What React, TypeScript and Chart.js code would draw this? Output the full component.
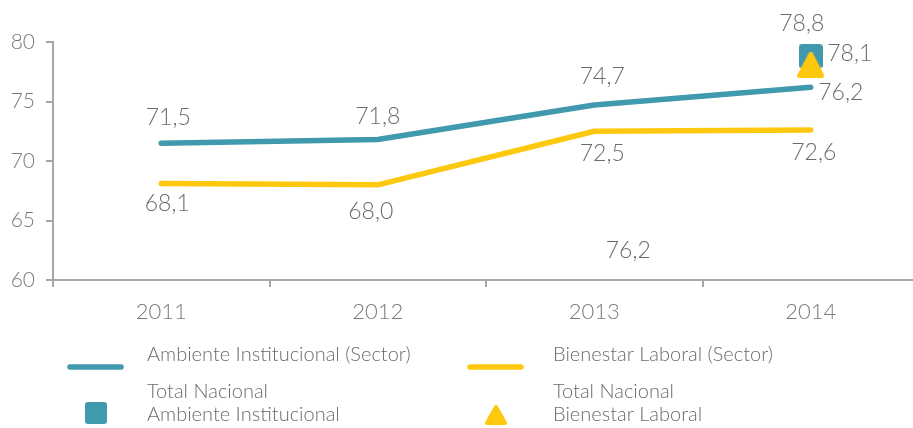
import React, { useEffect, useRef } from 'react';
import { Chart, registerables } from 'chart.js';

Chart.register(...registerables);

// ---------- data ----------
const years: string[] = ['2011', '2012', '2013', '2014'];
const ambienteSector: number[] = [71.5, 71.8, 74.7, 76.2];
const bienestarSector: number[] = [68.1, 68.0, 72.5, 72.6];
const totalAmbiente: (number | null)[] = [null, null, null, 78.8];
const totalBienestar: (number | null)[] = [null, null, null, 78.1];
const yTickValues: number[] = [60, 65, 70, 75, 80];
const strayLabelText = '76,2';
const legendAmbienteSector: string[] = ['Ambiente Institucional (Sector)'];
const legendBienestarSector: string[] = ['Bienestar Laboral (Sector)'];
const legendTotalAmbiente: string[] = ['Total Nacional', 'Ambiente Institucional'];
const legendTotalBienestar: string[] = ['Total Nacional', 'Bienestar Laboral'];

// ---------- styles ----------
const TEAL = '#4199ae';
const YELLOW = '#fec80f';
const AXIS = '#a6a6a6';
const TICK_TEXT = '#7a7a7a';
const LABEL_TEXT = '#6b6b6b';
const FONT = 'Lato, "Open Sans", sans-serif';

const fmt = (v: number) => v.toFixed(1).replace('.', ',');

function makeSquare(size: number, color: string): HTMLCanvasElement {
  const c = document.createElement('canvas');
  c.width = size;
  c.height = size;
  const ctx = c.getContext('2d')!;
  const r = 3;
  ctx.fillStyle = color;
  ctx.beginPath();
  ctx.moveTo(r, 0);
  ctx.arcTo(size, 0, size, size, r);
  ctx.arcTo(size, size, 0, size, r);
  ctx.arcTo(0, size, 0, 0, r);
  ctx.arcTo(0, 0, size, 0, r);
  ctx.closePath();
  ctx.fill();
  return c;
}

function makeTriangle(w: number, h: number, color: string): HTMLCanvasElement {
  const c = document.createElement('canvas');
  c.width = w;
  c.height = h;
  const ctx = c.getContext('2d')!;
  const lw = 4;
  ctx.fillStyle = color;
  ctx.strokeStyle = color;
  ctx.lineWidth = lw;
  ctx.lineJoin = 'round';
  ctx.beginPath();
  ctx.moveTo(w / 2, lw / 2);
  ctx.lineTo(w - lw / 2, h - lw / 2);
  ctx.lineTo(lw / 2, h - lw / 2);
  ctx.closePath();
  ctx.fill();
  ctx.stroke();
  return c;
}

// label offsets (pixels from each point), kept apart from the data
const labelOffsets: Record<number, [number, number][]> = {
  0: [[7, -26], [0, -23], [8, -28], [30, 5]],
  1: [[6, 20], [-7, 27], [8, 22], [3, 23]],
  2: [[0, 0], [0, 0], [0, 0], [-9, -33]],
  3: [[0, 0], [0, 0], [0, 0], [39, -11]],
};

export default function App() {
  const ref = useRef<HTMLCanvasElement | null>(null);

  useEffect(() => {
    if (!ref.current) return;
    const square = makeSquare(24, TEAL);
    const triangle = makeTriangle(27, 26, YELLOW);
    const legendSquare = makeSquare(22, TEAL);
    const legendTriangle = makeTriangle(22, 20, YELLOW);

    const labelsPlugin = {
      id: 'valueLabels',
      afterDatasetsDraw(chart: any) {
        const ctx = chart.ctx;
        ctx.save();
        ctx.font = `300 23px ${FONT}`;
        ctx.fillStyle = LABEL_TEXT;
        ctx.textAlign = 'center';
        ctx.textBaseline = 'middle';
        chart.data.datasets.forEach((ds: any, di: number) => {
          const meta = chart.getDatasetMeta(di);
          meta.data.forEach((pt: any, i: number) => {
            const v = ds.data[i];
            if (v === null || v === undefined) return;
            const off = labelOffsets[di][i];
            ctx.fillText(fmt(v), pt.x + off[0], pt.y + off[1]);
          });
        });
        // stray label found in the original
        const xs = chart.scales.x;
        const ys = chart.scales.y;
        ctx.fillText(strayLabelText, xs.getPixelForValue(2) + 34, ys.getPixelForValue(62.5));
        ctx.restore();
      },
    };

    const legendPlugin = {
      id: 'customLegend',
      afterDraw(chart: any) {
        const ctx = chart.ctx;
        ctx.save();
        ctx.font = `300 20px ${FONT}`;
        ctx.fillStyle = LABEL_TEXT;
        ctx.textAlign = 'left';
        ctx.textBaseline = 'middle';
        ctx.lineCap = 'round';
        ctx.lineWidth = 5.5;
        // column 1
        ctx.strokeStyle = TEAL;
        ctx.beginPath();
        ctx.moveTo(70, 367);
        ctx.lineTo(121, 367);
        ctx.stroke();
        ctx.fillText(legendAmbienteSector[0], 147, 355);
        ctx.drawImage(legendSquare, 85, 402);
        legendTotalAmbiente.forEach((t, i) => ctx.fillText(t, 147, 392 + i * 23));
        // column 2
        ctx.strokeStyle = YELLOW;
        ctx.beginPath();
        ctx.moveTo(470, 367);
        ctx.lineTo(521, 367);
        ctx.stroke();
        ctx.fillText(legendBienestarSector[0], 553, 355);
        ctx.drawImage(legendTriangle, 485, 405);
        legendTotalBienestar.forEach((t, i) => ctx.fillText(t, 553, 392 + i * 23));
        ctx.restore();
      },
    };

    const chart = new Chart(ref.current, {
      type: 'line',
      data: {
        labels: years,
        datasets: [
          {
            label: legendAmbienteSector[0],
            data: ambienteSector,
            borderColor: TEAL,
            backgroundColor: TEAL,
            borderWidth: 5.5,
            borderCapStyle: 'round',
            borderJoinStyle: 'round',
            pointRadius: 0,
            tension: 0,
            order: 3,
          },
          {
            label: legendBienestarSector[0],
            data: bienestarSector,
            borderColor: YELLOW,
            backgroundColor: YELLOW,
            borderWidth: 5.5,
            borderCapStyle: 'round',
            borderJoinStyle: 'round',
            pointRadius: 0,
            tension: 0,
            order: 2,
          },
          {
            label: legendTotalAmbiente.join(' '),
            data: totalAmbiente,
            showLine: false,
            pointStyle: square as any,
            pointRadius: 12,
            order: 1,
          },
          {
            label: legendTotalBienestar.join(' '),
            data: totalBienestar,
            showLine: false,
            pointStyle: triangle as any,
            pointRadius: 13,
            order: 0,
          },
        ] as any,
      },
      options: {
        animation: false,
        responsive: false,
        maintainAspectRatio: false,
        layout: { padding: { top: 42, right: 9, left: 0, bottom: 0 } },
        plugins: {
          legend: { display: false },
          tooltip: { enabled: false },
        },
        scales: {
          x: {
            type: 'category',
            offset: true,
            afterFit: (s: any) => {
              s.height = 148;
            },
            grid: {
              offset: true,
              drawOnChartArea: false,
              drawTicks: true,
              tickLength: 7,
              color: AXIS,
              lineWidth: 2,
            },
            border: { display: true, color: AXIS, width: 2 },
            ticks: {
              padding: 12,
              color: TICK_TEXT,
              font: { family: FONT, size: 22, weight: '300' as any },
            },
          },
          y: {
            min: 60,
            max: 80,
            afterFit: (s: any) => {
              s.width = 53;
            },
            afterBuildTicks: (s: any) => {
              s.ticks = yTickValues.map((v) => ({ value: v }));
            },
            grid: {
              drawOnChartArea: false,
              drawTicks: true,
              tickLength: 7,
              color: AXIS,
              lineWidth: 2,
            },
            border: { display: true, color: AXIS, width: 2 },
            ticks: {
              padding: 11,
              color: TICK_TEXT,
              font: { family: FONT, size: 21, weight: '300' as any },
            },
          },
        },
      } as any,
      plugins: [labelsPlugin, legendPlugin],
    });
    return () => chart.destroy();
  }, []);

  return (
    <div
      style={{
        position: 'absolute',
        left: 0,
        top: 0,
        width: 913,
        height: 428,
        overflow: 'hidden',
        background: '#fff',
      }}
    >
      <canvas ref={ref} width={933} height={428} style={{ width: 933, height: 428, display: 'block' }} />
    </div>
  );
}
